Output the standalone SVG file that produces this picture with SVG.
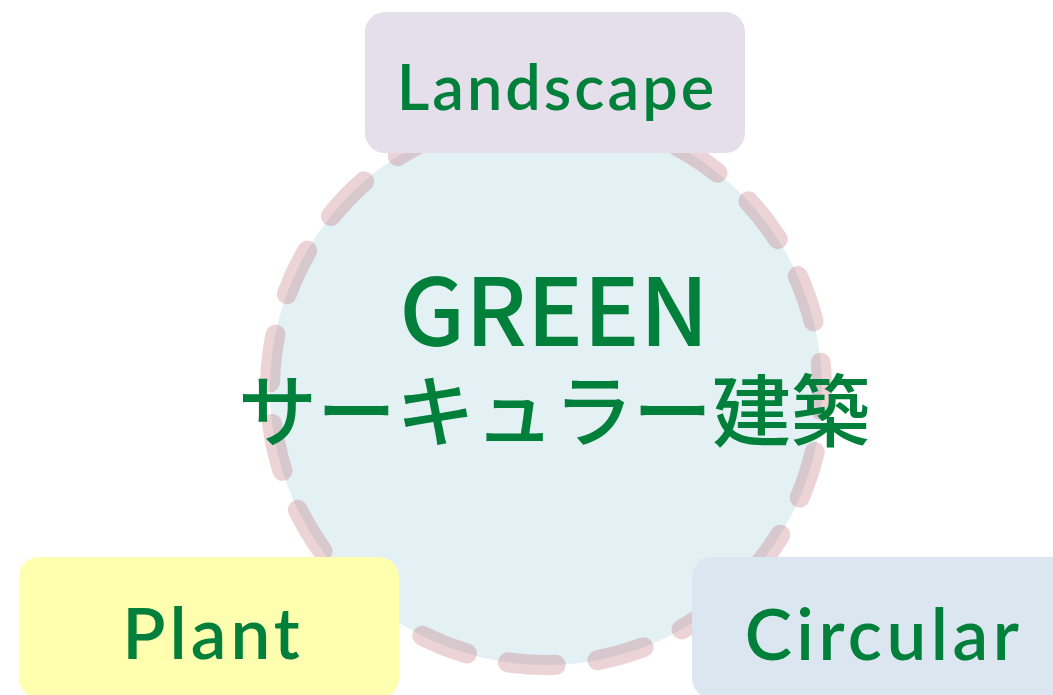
<svg xmlns="http://www.w3.org/2000/svg" width="1053" height="695" viewBox="0 0 1053 695">
  <style>
    .lbl { font-family: Lato, "Open Sans", "Liberation Sans", sans-serif; font-weight: 600; fill: #00803a; text-anchor: middle; }
    .ctr { font-family: "Noto Sans CJK JP", "Noto Sans", sans-serif; font-weight: 500; fill: #00803a; text-anchor: middle; }
  </style>
  <rect width="1053" height="695" fill="#ffffff"/>
  <g id="center">
    <circle cx="546" cy="389" r="276" fill="#e3f0f4"/>
    <path d="M546 113 A276 276 0 0 1 546 665 A276 276 0 0 1 546 113" fill="none" stroke="#b4505a" stroke-opacity="0.25" stroke-width="20" stroke-linecap="round" stroke-dasharray="48 42" stroke-dashoffset="43"/>
    <text class="ctr"><tspan x="554" y="346" font-size="94">GREEN</tspan><tspan x="554" y="441" font-size="79">サーキュラー建築</tspan></text>
  </g>
  <g id="landscape">
    <rect x="365" y="12" width="380" height="141" rx="20" fill="#e5dfec"/>
    <text class="lbl" x="557" y="110" font-size="63" letter-spacing="3">Landscape</text>
  </g>
  <g id="plant">
    <rect x="19" y="557" width="380" height="141" rx="20" fill="#ffffb0"/>
    <text class="lbl" x="213" y="659" font-size="71" letter-spacing="4">Plant</text>
  </g>
  <g id="circular">
    <rect x="692" y="557" width="380" height="141" rx="20" fill="#dce6f1"/>
    <text class="lbl" x="884" y="660" font-size="71" letter-spacing="4.5">Circular</text>
  </g>
</svg>
